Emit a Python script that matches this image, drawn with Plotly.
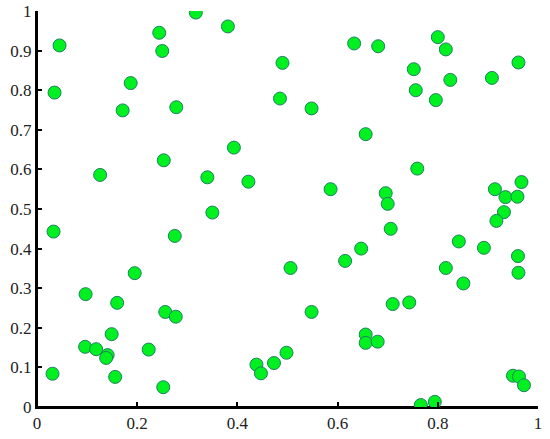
import plotly.graph_objects as go

# scattered points
x_vals = [
    0.045, 0.035, 0.244, 0.250, 0.317, 0.381, 0.187, 0.171, 0.278, 0.393,
    0.253, 0.126, 0.340, 0.422, 0.350,
    0.490, 0.485, 0.548, 0.633, 0.681, 0.800, 0.816, 0.752, 0.825, 0.756,
    0.796, 0.908, 0.961, 0.656, 0.759, 0.586, 0.696, 0.700, 0.914, 0.967,
    0.935, 0.959, 0.932, 0.917,
    0.033, 0.275, 0.195, 0.097, 0.160, 0.256, 0.277, 0.149, 0.096, 0.118,
    0.223, 0.141, 0.138, 0.031, 0.156, 0.252, 0.438, 0.447, 0.473,
    0.706, 0.506, 0.498, 0.548, 0.615, 0.647, 0.710, 0.743, 0.656, 0.656,
    0.680, 0.842, 0.892, 0.816, 0.851, 0.960, 0.961, 0.950, 0.962, 0.972,
    0.766, 0.794,
]
y_vals = [
    0.913, 0.794, 0.945, 0.899, 0.996, 0.961, 0.818, 0.749, 0.757, 0.655,
    0.623, 0.586, 0.580, 0.569, 0.491,
    0.869, 0.779, 0.754, 0.918, 0.911, 0.934, 0.903, 0.853, 0.826, 0.800,
    0.775, 0.831, 0.870, 0.689, 0.602, 0.550, 0.540, 0.513, 0.550, 0.568,
    0.530, 0.531, 0.492, 0.470,
    0.443, 0.432, 0.338, 0.285, 0.263, 0.240, 0.228, 0.184, 0.152, 0.146,
    0.145, 0.131, 0.124, 0.084, 0.076, 0.050, 0.107, 0.085, 0.111,
    0.450, 0.351, 0.137, 0.240, 0.369, 0.400, 0.260, 0.264, 0.183, 0.162,
    0.165, 0.418, 0.402, 0.351, 0.312, 0.381, 0.339, 0.079, 0.077, 0.055,
    0.005, 0.013,
]

x_ticks = [0, 0.2, 0.4, 0.6, 0.8, 1]
x_ticktext = ['0', '0.2', '0.4', '0.6', '0.8', '1']
y_ticks = [0, 0.1, 0.2, 0.3, 0.4, 0.5, 0.6, 0.7, 0.8, 0.9, 1]
y_ticktext = ['0', '0.1', '0.2', '0.3', '0.4', '0.5', '0.6', '0.7', '0.8', '0.9', '1']

serif = 'Times New Roman'

fig = go.Figure(go.Scatter(
    x=x_vals, y=y_vals, mode='markers',
    marker=dict(size=13, color='#00f020', line=dict(color='#1f8060', width=1)),
    showlegend=False,
))

fig.update_layout(
    width=550, height=439,
    font=dict(family=serif, size=17, color='#222222'),
    plot_bgcolor='white', paper_bgcolor='white',
    margin=dict(l=37, r=12, t=11, b=32, autoexpand=False),
)
for update in (fig.update_xaxes, fig.update_yaxes):
    update(
        range=[0, 1], showgrid=False, zeroline=False,
        showline=True, linecolor='rgb(0,0,0)', linewidth=2,
        ticks='inside', ticklen=5, tickwidth=2, tickcolor='rgb(0,0,0)',
    )
fig.update_xaxes(tickvals=x_ticks, ticktext=x_ticktext)
fig.update_yaxes(tickvals=y_ticks, ticktext=y_ticktext)

# left and bottom frame lines
fig.add_shape(type='line', xref='paper', yref='paper', x0=0, x1=1, y0=0, y1=0,
              line=dict(color='black', width=2), layer='below')
fig.add_shape(type='line', xref='paper', yref='paper', x0=0, x1=0, y0=0, y1=1,
              line=dict(color='black', width=2), layer='below')

fig.write_html("out.html", post_script="document.body.style.margin='0';",
               config={'displayModeBar': False})
